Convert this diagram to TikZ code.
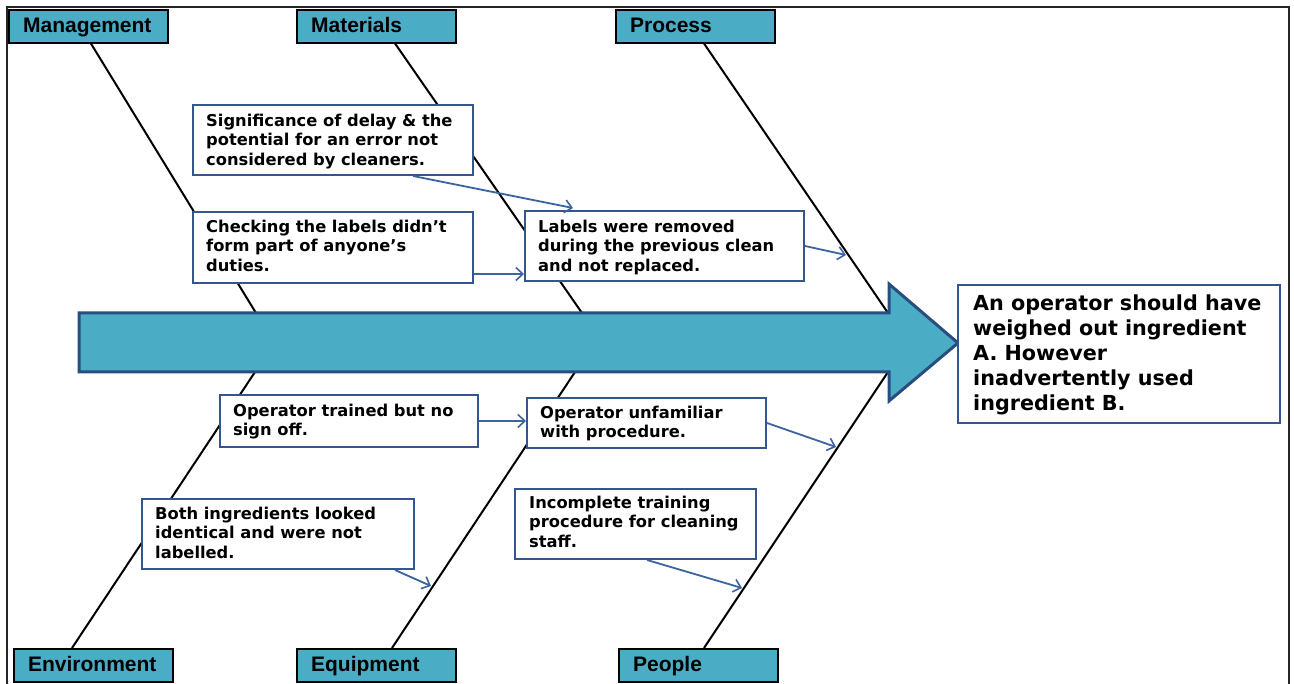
\documentclass[tikz,border=0pt]{standalone}
\usepackage{fontspec}
\usetikzlibrary{arrows.meta,calc}
\newfontfamily\hdrfont{Liberation Sans}
\newfontfamily\dvfont{DejaVu Sans}
\definecolor{tealfill}{RGB}{75,172,198}
\definecolor{boxblue}{RGB}{52,86,140}
\definecolor{spineblue}{RGB}{40,78,128}
\definecolor{arrblue}{RGB}{59,100,160}
\begin{document}
\begin{tikzpicture}[x=1pt,y=-1pt,
  hdr/.style={draw=black,line width=2.2pt,fill=tealfill,anchor=north west,inner xsep=14pt,inner ysep=0pt,
    text width=131pt,align=left,minimum height=33pt,text height=15.5pt,text depth=3.5pt,
    font=\hdrfont\bfseries\fontsize{21}{24}\selectfont},
  cbox/.style={draw=boxblue,line width=2pt,fill=white,anchor=north west,inner sep=0pt},
  ctext/.style={anchor=north west,inner sep=0pt,align=left,
    font=\dvfont\bfseries\fontsize{16.3}{19.5}\selectfont},
  etext/.style={anchor=north west,inner sep=0pt,align=left,
    font=\dvfont\bfseries\fontsize{20.7}{25}\selectfont},
  bone/.style={line width=2pt,draw=black},
  arr/.style={draw=arrblue,line width=1.8pt,-{Straight Barb[length=7pt,width=13pt,line width=1.6pt]}}
]
\useasboundingbox (0,0) rectangle (1294,684);
\fill[white] (0,0) rectangle (1294,684);
% frame
\draw[line width=2.2pt,black!85] (7,684) -- (7,7) -- (1289,7) -- (1289,684);

% bone end points
\coordinate (mg1) at (90,42);   \coordinate (mg2) at (256,313);
\coordinate (ma1) at (394,42);  \coordinate (ma2) at (582,313);
\coordinate (pr1) at (703,42);  \coordinate (pr2) at (888,313);
\coordinate (en1) at (72,648);  \coordinate (en2) at (255,372);
\coordinate (eq1) at (392,648); \coordinate (eq2) at (575,372);
\coordinate (pe1) at (704,648); \coordinate (pe2) at (888,372);

\draw[bone] (mg1) -- (mg2);
\draw[bone] (ma1) -- (ma2);
\draw[bone] (pr1) -- (pr2);
\draw[bone] (en1) -- (en2);
\draw[bone] (eq1) -- (eq2);
\draw[bone] (pe1) -- (pe2);

% spine arrow
\draw[fill=tealfill,draw=spineblue,line width=3pt,line join=miter]
  (79,313) -- (889,313) -- (889,284) -- (958,343) -- (889,401) -- (889,372) -- (79,372) -- cycle;

% category headers
\node[hdr] (mgmt) at (8,9) {Management};
\node[hdr] (mat) at (296,9) {Materials};
\node[hdr] (proc) at (615,9) {Process};
\node[hdr] (env) at (13,648) {Environment};
\node[hdr] (equip) at (296,648) {Equipment};
\node[hdr] (people) at (618,648) {People};

% cause boxes
\node[cbox,minimum width=280pt,minimum height=70pt] (b1) at (192,104) {};
\node[ctext] (t1) at ([xshift=14pt,yshift=-9.6pt]b1.north west) {Significance of delay \& the\\potential for an error not\\considered by cleaners.};

\node[cbox,minimum width=280pt,minimum height=71pt] (b2) at (192,211) {};
\node[ctext] (t2) at ([xshift=14pt,yshift=-8.6pt]b2.north west) {Checking the labels didn’t\\form part of anyone’s\\duties.};

\node[cbox,minimum width=279pt,minimum height=70pt] (b3) at (524,210) {};
\node[ctext] (t3) at ([xshift=14pt,yshift=-9.6pt]b3.north west) {Labels were removed\\during the previous clean\\and not replaced.};

\node[cbox,minimum width=258pt,minimum height=52pt] (b4) at (219,394) {};
\node[ctext] (t4) at ([xshift=14pt,yshift=-9.6pt]b4.north west) {Operator trained but no\\sign off.};

\node[cbox,minimum width=239pt,minimum height=50pt] (b5) at (526,397) {};
\node[ctext] (t5) at ([xshift=14pt,yshift=-8.6pt]b5.north west) {Operator unfamiliar\\with procedure.};

\node[cbox,minimum width=272pt,minimum height=70pt] (b6) at (141,498) {};
\node[ctext] (t6) at ([xshift=14pt,yshift=-8.6pt]b6.north west) {Both ingredients looked\\identical and were not\\labelled.};

\node[cbox,minimum width=241pt,minimum height=70pt] (b7) at (514,488) {};
\node[ctext] (t7) at ([xshift=15pt,yshift=-7.6pt]b7.north west) {Incomplete training\\procedure for cleaning\\staff.};

% effect box
\node[cbox,minimum width=322pt,minimum height=138pt] (eff) at (957,284) {};
\node[etext] (efft) at ([xshift=16pt,yshift=-10.3pt]eff.north west) {An operator should have\\weighed out ingredient\\A. However\\inadvertently used\\ingredient B.};

% arrow targets on bones
\coordinate (pc) at (846,255);
\coordinate (pp) at (836,447);
\coordinate (eqf) at (431,586);
\coordinate (ppg) at (742,588);

% connectors
\draw[arr] ([xshift=221pt]b1.south west) -- ([xshift=49pt,yshift=2pt]b3.north west);
\draw[arr] ([yshift=10pt]b2.south east) -- ([yshift=10pt]b2.south east -| b3.west);
\draw[arr] (b3.east) -- (pc);
\draw[arr] (b4.east) -- (b4.east -| b5.west);
\draw[arr] (b5.east) -- (pp);
\draw[arr] ([xshift=254pt]b6.south west) -- (eqf);
\draw[arr] ([xshift=133pt]b7.south west) -- (ppg);
\end{tikzpicture}
\end{document}
